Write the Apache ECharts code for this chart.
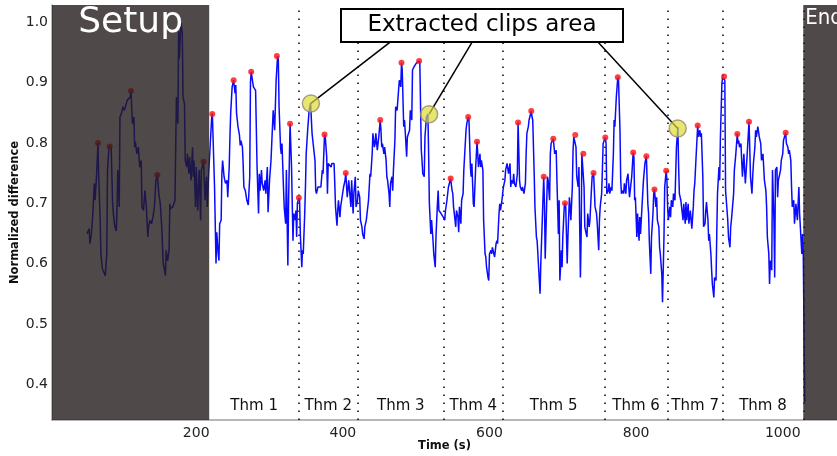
<!DOCTYPE html>
<html>
<head>
<meta charset="utf-8">
<script src="https://cdn.jsdelivr.net/npm/echarts@6/dist/echarts.min.js"></script>
<style>html,body{margin:0;padding:0;background:#fff}#c{width:837px;height:456px}</style>
</head>
<body>
<div id="c"></div>
<script>
// ---- data ----
const times = [51,54,55,57,59,61,62,64,66,67,69,70,72,74,76,78,79,81,82,84,86,87,89,91,92,93,95,96,98,100,102,104,106,108,110,111,113,115,116,117,119,121,123,125,126,128,130,132,134,135,137,139,141,143,145,147,149,151,153,155,156,158,159,161,163,164,165,168,171,173,175,176,177,179,181,182,184,185,187,188,190,191,193,195,196,197,199,200,202,204,205,206,207,210,212,214,215,217,219,221,222,224,225,227,228,230,231,232,234,235,236,238,239,240,242,243,245,246,247,249,251,253,254,255,257,259,260,261,263,264,265,267,269,271,273,274,275,276,278,279,281,283,285,286,287,289,290,292,294,295,297,298,300,302,304,305,307,309,311,312,313,315,316,317,319,320,322,323,325,326,328,329,330,332,333,335,336,337,338,340,341,342,344,345,346,348,349,350,352,354,356,358,360,362,363,364,366,368,370,372,373,375,376,378,379,380,382,384,385,386,388,389,390,392,393,394,396,397,399,401,403,404,406,408,409,411,412,414,415,417,418,420,421,423,424,426,427,429,430,432,434,435,437,438,440,441,443,444,445,447,449,451,452,453,454,456,457,459,460,461,463,464,465,467,468,469,471,472,474,475,477,479,480,481,483,484,485,487,488,489,491,492,494,495,497,499,500,502,504,505,507,508,509,511,512,514,516,517,518,520,521,523,524,526,527,529,530,531,533,534,536,537,539,540,542,544,547,549,550,551,553,554,555,557,558,559,561,562,564,565,566,568,569,571,572,574,575,576,578,579,581,583,584,585,587,588,589,591,592,594,595,596,598,599,600,602,603,604,606,607,609,610,611,613,614,615,617,618,619,621,622,624,625,626,628,629,630,632,633,634,636,638,639,641,642,644,645,647,649,650,651,653,654,657,658,659,661,662,664,665,666,668,669,670,672,674,675,676,678,679,680,682,683,684,687,689,691,692,694,695,696,698,699,700,702,703,704,706,707,709,710,711,713,714,715,717,718,719,721,722,724,725,726,728,729,730,732,733,734,736,737,739,740,742,743,744,746,747,749,750,751,753,754,755,758,759,760,762,763,764,766,767,769,770,771,773,775,776,778,779,780,782,783,784,786,787,789,790,791,793,794,796,797,798,799,801,802,804,805,806,808,809,810,812,814,815,816,817,818,820,821,823,824,825,827,828,829,831,832,833,835,836,838,839,841,842,843,844,846,847,848,850,851,853,854,855,857,858,859,861,862,864,865,867,868,869,871,872,874,875,876,878,879,880,882,884,885,887,888,889,891,892,894,895,896,898,899,900,902,903,904,906,907,909,910,911,913,914,915,917,918,920,921,922,923,925,926,928,929,930,932,933,934,936,938,939,940,941,943,944,945,947,948,949,951,952,954,955,956,958,959,960,962,963,964,966,967,968,970,971,973,974,975,977,978,979,981,982,983,985,986,988,989,990,992,993,994,996,997,998,1000,1001,1003,1004,1005,1007,1008,1009,1011,1012,1013,1015,1016,1018,1019,1020,1022,1023,1024,1026,1027,1028,1030];
const values = [0.649,0.658,0.633,0.649,0.683,0.733,0.705,0.744,0.800,0.744,0.672,0.616,0.591,0.586,0.580,0.616,0.755,0.793,0.794,0.793,0.699,0.683,0.661,0.654,0.694,0.755,0.694,0.843,0.849,0.860,0.854,0.857,0.871,0.868,0.876,0.886,0.832,0.843,0.793,0.802,0.782,0.793,0.760,0.771,0.694,0.688,0.721,0.694,0.644,0.661,0.672,0.666,0.677,0.694,0.738,0.747,0.716,0.699,0.661,0.600,0.594,0.580,0.622,0.605,0.622,0.699,0.691,0.694,0.705,0.876,0.832,0.985,0.940,1.000,0.982,0.876,0.865,0.771,0.760,0.782,0.749,0.777,0.738,0.793,0.744,0.771,0.694,0.760,0.688,0.755,0.716,0.672,0.755,0.769,0.705,0.744,0.694,0.749,0.752,0.840,0.849,0.848,0.727,0.600,0.652,0.616,0.605,0.666,0.672,0.749,0.771,0.744,0.738,0.733,0.738,0.710,0.760,0.810,0.849,0.893,0.904,0.882,0.896,0.849,0.827,0.813,0.796,0.804,0.793,0.766,0.727,0.721,0.705,0.697,0.744,0.900,0.918,0.915,0.893,0.896,0.887,0.760,0.683,0.749,0.721,0.755,0.733,0.721,0.738,0.716,0.760,0.685,0.738,0.771,0.827,0.854,0.821,0.904,0.944,0.937,0.860,0.793,0.782,0.799,0.727,0.694,0.666,0.755,0.597,0.705,0.832,0.832,0.760,0.638,0.683,0.672,0.688,0.644,0.700,0.709,0.705,0.649,0.594,0.622,0.616,0.683,0.727,0.782,0.821,0.854,0.866,0.816,0.813,0.771,0.721,0.716,0.727,0.724,0.727,0.755,0.749,0.814,0.810,0.777,0.716,0.766,0.768,0.760,0.766,0.768,0.766,0.733,0.694,0.663,0.688,0.705,0.677,0.694,0.694,0.727,0.738,0.750,0.710,0.738,0.741,0.694,0.738,0.683,0.716,0.744,0.694,0.705,0.721,0.710,0.672,0.661,0.649,0.641,0.661,0.672,0.694,0.705,0.749,0.744,0.782,0.816,0.793,0.799,0.816,0.788,0.810,0.838,0.821,0.793,0.799,0.782,0.793,0.771,0.744,0.738,0.716,0.694,0.733,0.744,0.721,0.755,0.804,0.860,0.854,0.871,0.904,0.893,0.933,0.921,0.827,0.838,0.821,0.777,0.810,0.810,0.821,0.854,0.838,0.921,0.926,0.926,0.932,0.930,0.936,0.932,0.788,0.771,0.749,0.744,0.810,0.843,0.848,0.782,0.700,0.649,0.672,0.638,0.616,0.594,0.644,0.699,0.721,0.688,0.685,0.683,0.685,0.677,0.672,0.688,0.705,0.727,0.741,0.721,0.716,0.694,0.672,0.661,0.688,0.677,0.652,0.694,0.666,0.705,0.716,0.755,0.777,0.821,0.832,0.843,0.838,0.760,0.744,0.766,0.699,0.694,0.755,0.802,0.782,0.760,0.782,0.760,0.771,0.755,0.672,0.616,0.611,0.594,0.577,0.572,0.616,0.622,0.616,0.627,0.616,0.611,0.633,0.638,0.633,0.683,0.699,0.688,0.705,0.716,0.727,0.738,0.755,0.766,0.766,0.749,0.766,0.727,0.738,0.733,0.749,0.733,0.727,0.749,0.834,0.738,0.727,0.721,0.727,0.716,0.733,0.782,0.816,0.827,0.838,0.853,0.843,0.838,0.749,0.694,0.644,0.638,0.616,0.572,0.550,0.600,0.672,0.744,0.699,0.608,0.699,0.744,0.738,0.705,0.782,0.799,0.807,0.782,0.788,0.738,0.649,0.705,0.572,0.622,0.594,0.644,0.694,0.700,0.694,0.600,0.644,0.710,0.694,0.672,0.727,0.788,0.810,0.813,0.793,0.744,0.727,0.760,0.577,0.644,0.782,0.782,0.727,0.661,0.649,0.644,0.683,0.661,0.672,0.721,0.744,0.750,0.749,0.694,0.683,0.666,0.622,0.672,0.694,0.716,0.755,0.799,0.809,0.799,0.716,0.721,0.733,0.716,0.727,0.721,0.782,0.838,0.827,0.876,0.909,0.904,0.821,0.738,0.716,0.721,0.716,0.733,0.716,0.738,0.749,0.727,0.710,0.733,0.744,0.784,0.777,0.705,0.710,0.644,0.683,0.638,0.677,0.649,0.694,0.716,0.738,0.766,0.778,0.738,0.699,0.683,0.638,0.583,0.644,0.683,0.716,0.723,0.694,0.710,0.672,0.661,0.627,0.616,0.583,0.536,0.644,0.727,0.754,0.738,0.694,0.672,0.694,0.677,0.705,0.694,0.716,0.705,0.749,0.793,0.826,0.760,0.716,0.705,0.694,0.672,0.699,0.666,0.702,0.672,0.699,0.666,0.688,0.672,0.658,0.694,0.721,0.733,0.782,0.829,0.810,0.821,0.810,0.816,0.744,0.661,0.666,0.688,0.702,0.672,0.638,0.649,0.616,0.589,0.566,0.544,0.577,0.572,0.649,0.716,0.760,0.738,0.810,0.899,0.909,0.910,0.904,0.721,0.705,0.672,0.644,0.627,0.661,0.672,0.672,0.716,0.755,0.782,0.815,0.799,0.804,0.793,0.799,0.771,0.744,0.782,0.755,0.733,0.771,0.793,0.835,0.793,0.744,0.716,0.744,0.766,0.793,0.821,0.810,0.827,0.827,0.810,0.799,0.771,0.782,0.760,0.738,0.721,0.694,0.644,0.616,0.566,0.605,0.589,0.755,0.672,0.577,0.755,0.760,0.710,0.738,0.738,0.755,0.771,0.782,0.804,0.813,0.817,0.799,0.793,0.782,0.788,0.771,0.727,0.694,0.705,0.666,0.699,0.683,0.672,0.727,0.683,0.661,0.616,0.649,0.616,0.370];

const peakTimes  = [66,82,111,147,210,222,251,275,310,328,340,375,404,451,480,504,547,571,583,639,657,674,687,703,717,728,742,758,775,796,814,825,841,884,920,938,954,1004];
const peakValues = [0.800,0.794,0.886,0.747,0.769,0.848,0.904,0.918,0.944,0.832,0.709,0.814,0.750,0.838,0.933,0.936,0.741,0.843,0.802,0.834,0.853,0.744,0.807,0.700,0.813,0.782,0.750,0.809,0.909,0.784,0.778,0.723,0.754,0.829,0.910,0.815,0.835,0.817];

const clipTimes  = [356.4, 517.7, 856.7];
const clipValues = [0.8655, 0.8477, 0.824];
const calloutTimes = [464.5, 576.3, 748.2];
const calloutValue = 0.967;
const calloutText = 'Extracted clips area';

const themeBounds = [218, 340, 420, 538, 618, 757, 843, 918, 1028];
const themeLabels = ['Thm 1','Thm 2','Thm 3','Thm 4','Thm 5','Thm 6','Thm 7','Thm 8'];
const setupEnd = 217.7;
const endStart = 1028;

const X_MIN = 3.3, X_MAX = 1074;
const Y_MIN = 0.3407, Y_MAX = 1.0287;

// ---- chart ----
const chart = echarts.init(document.getElementById('c'));
const FONT = 'DejaVu Sans';

const themeAreas = themeLabels.map((lab, i) => [
  { xAxis: themeBounds[i], name: lab },
  { xAxis: themeBounds[i + 1] }
]);

const option = {
  animation: false,
  grid: { left: 52, right: 0, top: 5, bottom: 36, outerBoundsMode: 'none', containLabel: false },
  xAxis: {
    type: 'value', min: X_MIN, max: X_MAX,
    splitLine: { show: false },
    axisTick: { show: false },
    axisLine: { show: true, lineStyle: { color: '#a0a0a0', width: 1.5 } },
    axisLabel: {
      fontSize: 14, color: '#222', margin: 6, fontFamily: FONT,
      formatter: v => (Math.abs(v % 200) < 1e-6 ? String(Math.round(v)) : '')
    },
    name: 'Time (s)', nameLocation: 'middle', nameGap: 20, nameMoveOverlap: false,
    nameTextStyle: { fontWeight: 'bold', fontSize: 11.5, fontFamily: FONT, color: '#111' }
  },
  yAxis: {
    type: 'value', min: Y_MIN, max: Y_MAX,
    splitLine: { show: false },
    axisTick: { show: false },
    axisLine: { show: true, lineStyle: { color: '#a0a0a0', width: 1.5 } },
    axisLabel: {
      fontSize: 14, color: '#222', margin: 4, fontFamily: FONT,
      formatter: v => { const r = Math.round(v * 10) / 10; return Math.abs(v - r) < 1e-6 ? r.toFixed(1) : ''; }
    },
    name: 'Normalized difference', nameLocation: 'middle', nameGap: 31, nameMoveOverlap: false,
    nameTextStyle: { fontWeight: 'bold', fontSize: 11.5, fontFamily: FONT, color: '#111' }
  },
  series: [
    {
      type: 'line', data: [], z: 1, silent: true,
      markLine: {
        z: 1,
        symbol: 'none', silent: true, label: { show: false },
        lineStyle: { color: '#000', type: [1.5, 6.5], width: 1.5 },
        data: themeBounds.slice(1).map(b => ({ xAxis: b }))
      },
      markArea: {
        z: 1,
        silent: true,
        itemStyle: { color: 'rgba(0,0,0,0)' },
        label: { show: true, position: 'insideBottom', distance: 6, fontSize: 15, color: '#111', fontFamily: FONT },
        data: themeAreas
      }
    },
    {
      type: 'line', z: 2, silent: true,
      data: times.map((t, i) => [t, values[i]]),
      showSymbol: false,
      lineStyle: { color: '#0a0aff', width: 1.5 }
    },
    {
      type: 'scatter', z: 3, silent: true,
      data: peakTimes.map((t, i) => [t, peakValues[i]]),
      symbolSize: 6,
      itemStyle: { color: '#ff1010' }
    },
    {
      type: 'line', data: [], z: 10, silent: true,
      markArea: {
        z: 10,
        silent: true,
        itemStyle: { color: 'rgba(35,28,28,0.8)' },
        data: [
          [{ xAxis: X_MIN, name: 'Setup', label: { position: 'insideTop', distance: 0, fontSize: 36, color: '#fff', fontFamily: FONT } },
           { xAxis: setupEnd }],
          [{ xAxis: endStart, name: 'End', label: { position: 'insideTopLeft', distance: 2, fontSize: 22, color: '#fff', fontFamily: 'DejaVu Sans Condensed' } },
           { xAxis: X_MAX }]
        ]
      }
    },
    {
      type: 'line', data: [], z: 11, silent: true,
      markLine: {
        z: 11,
        symbol: 'none', silent: true, label: { show: false },
        lineStyle: { color: '#000', type: 'solid', width: 1.5 },
        data: clipTimes.map((t, i) => [
          { coord: [t, clipValues[i]] },
          { coord: [calloutTimes[i], calloutValue] }
        ])
      }
    },
    {
      type: 'scatter', z: 12, silent: true,
      data: clipTimes.map((t, i) => [t, clipValues[i]]),
      symbolSize: 17,
      itemStyle: { color: 'rgba(222,218,50,0.85)', borderColor: '#9a8a68', borderWidth: 1.5 }
    }
  ],
  graphic: [
    {
      type: 'rect', z: 100,
      shape: { x: 341, y: 9, width: 282, height: 33 },
      style: { fill: '#fff', stroke: '#000', lineWidth: 2 }
    },
    {
      type: 'text', z: 101, x: 482, y: 25.5,
      style: { text: calloutText, fontSize: 23, fontFamily: FONT, fill: '#000', align: 'center', verticalAlign: 'middle' }
    }
  ]
};
chart.setOption(option);
</script>
</body>
</html>
